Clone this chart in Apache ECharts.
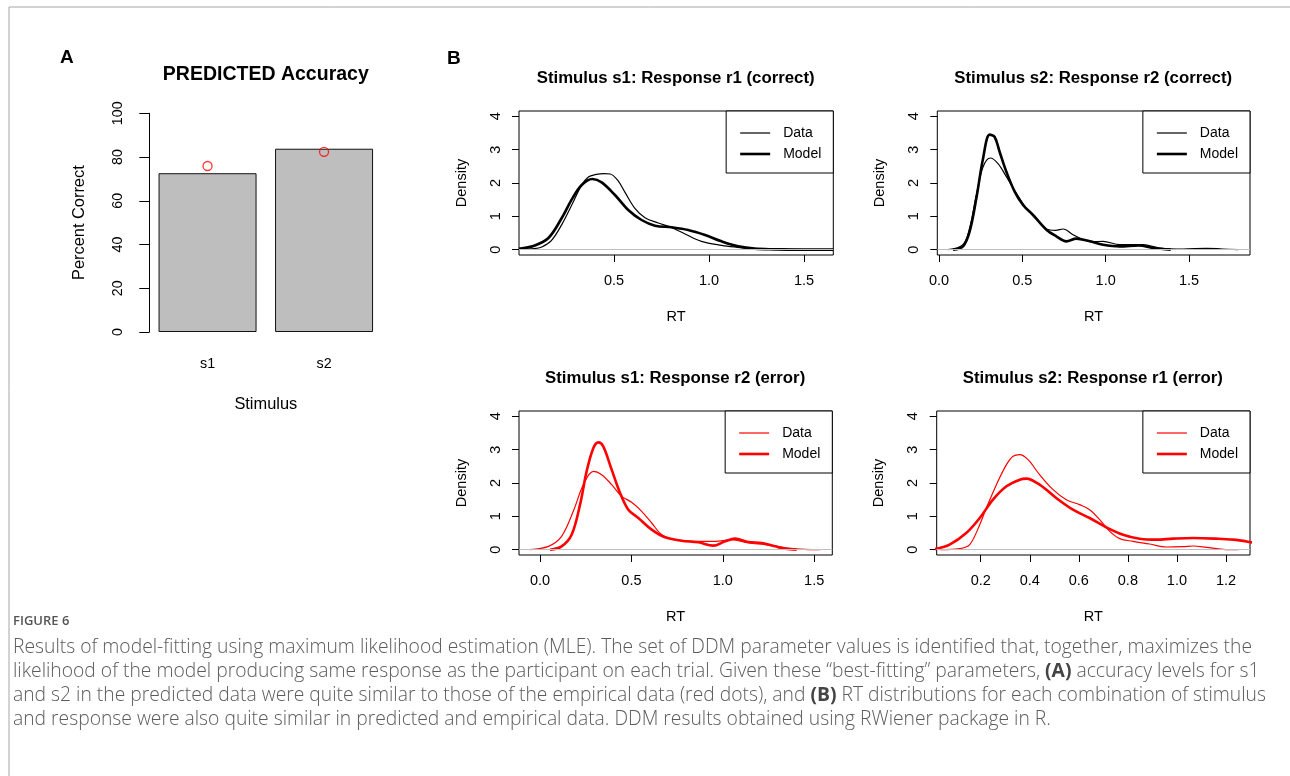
<!DOCTYPE html>
<html>
<head>
<meta charset="utf-8">
<script src="https://cdn.jsdelivr.net/npm/echarts@6/dist/echarts.min.js"></script>
<style>
  html, body { margin: 0; padding: 0; background: #fff; }
  #chart { width: 1290px; height: 776px; }
</style>
</head>
<body>
<div id="chart"></div>
<script>
// ---- Panel A: accuracy per stimulus (percent correct) ----
const stimuli = ['s1', 's2'];
const predictedAccuracy = [72.6, 83.8];
const observedAccuracy = [75.9, 82.4];
const accuracyTicks = [0, 20, 40, 60, 80, 100];

// ---- Panel B: RT density curves, [RT, density] ----
const s1r1Data = [[0.00,0.01],[0.08,0.03],[0.12,0.08],[0.17,0.27],[0.225,0.75],[0.277,1.33],[0.33,1.94],[0.365,2.18],[0.40,2.25],[0.45,2.28],[0.48,2.27],[0.52,2.08],[0.558,1.72],[0.61,1.24],[0.663,0.96],[0.733,0.80],[0.80,0.67],[0.874,0.47],[0.96,0.25],[1.067,0.13],[1.15,0.07],[1.22,0.03],[1.30,0.02],[1.38,0.03],[1.45,0.01],[1.55,0.0],[1.654,0.0]];
const s1r1Model = [[0.00,0.03],[0.08,0.12],[0.155,0.35],[0.225,0.95],[0.277,1.5],[0.33,1.94],[0.386,2.12],[0.435,2.02],[0.505,1.64],[0.575,1.19],[0.645,0.89],[0.716,0.72],[0.803,0.67],[0.89,0.59],[0.979,0.44],[1.066,0.25],[1.154,0.10],[1.24,0.03],[1.35,0.01],[1.45,0.0],[1.654,0.0]];

const s2r2Data = [[0.054,0.0],[0.144,0.15],[0.184,0.65],[0.224,1.64],[0.264,2.48],[0.308,2.75],[0.354,2.58],[0.404,2.19],[0.464,1.69],[0.524,1.24],[0.584,0.94],[0.644,0.62],[0.70,0.58],[0.744,0.62],[0.804,0.45],[0.864,0.3],[0.924,0.24],[0.984,0.25],[1.084,0.15],[1.224,0.15],[1.324,0.05],[1.464,0.02],[1.604,0.04],[1.70,0.02],[1.794,0.0]];
const s2r2Model = [[0.084,0.0],[0.144,0.1],[0.184,0.55],[0.224,1.54],[0.264,2.73],[0.304,3.45],[0.334,3.38],[0.364,2.93],[0.404,2.34],[0.454,1.74],[0.504,1.34],[0.564,1.04],[0.644,0.6],[0.704,0.4],[0.764,0.25],[0.824,0.33],[0.904,0.25],[0.984,0.15],[1.084,0.1],[1.2,0.13],[1.284,0.05],[1.39,0.0]];

const s1r2Data = [[-0.055,0.0],[0.046,0.1],[0.118,0.4],[0.182,1.15],[0.237,1.95],[0.292,2.35],[0.337,2.25],[0.392,1.95],[0.447,1.6],[0.501,1.42],[0.556,1.15],[0.611,0.8],[0.666,0.45],[0.739,0.3],[0.848,0.25],[0.958,0.25],[1.048,0.3],[1.14,0.2],[1.231,0.15],[1.359,0.05],[1.45,0.01],[1.531,0.0]];
const s1r2Model = [[0.055,0.0],[0.118,0.1],[0.173,0.45],[0.219,1.35],[0.255,2.35],[0.292,3.05],[0.319,3.22],[0.346,3.1],[0.392,2.4],[0.438,1.7],[0.483,1.2],[0.538,0.95],[0.611,0.6],[0.684,0.37],[0.775,0.27],[0.866,0.22],[0.948,0.12],[1.012,0.25],[1.067,0.33],[1.14,0.23],[1.213,0.2],[1.286,0.1],[1.34,0.03],[1.404,0.0]];

const s2r1Data = [[0.033,0.0],[0.114,0.03],[0.155,0.15],[0.196,0.75],[0.223,1.25],[0.264,1.95],[0.305,2.55],[0.332,2.8],[0.359,2.85],[0.393,2.7],[0.44,2.25],[0.495,1.8],[0.549,1.5],[0.603,1.35],[0.644,1.2],[0.685,0.9],[0.726,0.55],[0.767,0.33],[0.821,0.25],[0.889,0.17],[0.957,0.08],[1.025,0.09],[1.066,0.11],[1.12,0.07],[1.188,0.01],[1.25,0.0]];
const s2r1Model = [[0.0,0.02],[0.02,0.03],[0.073,0.15],[0.141,0.5],[0.196,0.95],[0.25,1.5],[0.305,1.9],[0.359,2.1],[0.386,2.13],[0.44,1.95],[0.508,1.55],[0.576,1.2],[0.644,0.95],[0.712,0.67],[0.78,0.45],[0.848,0.33],[0.916,0.3],[0.984,0.33],[1.066,0.35],[1.161,0.33],[1.229,0.3],[1.297,0.23],[1.35,0.16]];

const densityTicks = [0, 1, 2, 3, 4];
const rtTicksA = [0.5, 1.0, 1.5];
const rtTicksB = [0.0, 0.5, 1.0, 1.5];
const rtTicksC = [0.2, 0.4, 0.6, 0.8, 1.0, 1.2];

const panelTitles = [
  'Stimulus s1: Response r1 (correct)',
  'Stimulus s2: Response r2 (correct)',
  'Stimulus s1: Response r2 (error)',
  'Stimulus s2: Response r1 (error)'
];

const captionHead = 'FIGURE 6';
const captionLines = [
  'Results of model-fitting using maximum likelihood estimation (MLE). The set of DDM parameter values is identified that, together, maximizes the',
  'likelihood of the model producing same response as the participant on each trial. Given these \u201cbest-fitting\u201d parameters, {b|(A)} accuracy levels for s1',
  'and s2 in the predicted data were quite similar to those of the empirical data (red dots), and {b|(B)} RT distributions for each combination of stimulus',
  'and response were also quite similar in predicted and empirical data. DDM results obtained using RWiener package in R.'
];

// ---------------------------------------------------------------
const FONT = '"Liberation Sans", Arial, Helvetica, sans-serif';
const CAP_FONT = '"Open Sans", Lato, sans-serif';
const CAP_SIZE = 19.3;
const BLACK = '#000000';
const RED = '#ff0000';

// density panel boxes and their RT ranges
const panels = [
  { left: 519,   top: 111, width: 314.3, xmin: 0.0,     xmax: 1.654,  ticks: rtTicksA, color: BLACK, data: s1r1Data, model: s1r1Model },
  { left: 937.3, top: 111, width: 312.7, xmin: -0.0102, xmax: 1.8656, ticks: rtTicksB, color: BLACK, data: s2r2Data, model: s2r2Model },
  { left: 519,   top: 411, width: 313.3, xmin: -0.1149, xmax: 1.599,  ticks: rtTicksB, color: RED,   data: s1r2Data, model: s1r2Model },
  { left: 936.7, top: 411, width: 313.3, xmin: 0.0206,  xmax: 1.2978, ticks: rtTicksC, color: RED,   data: s2r1Data, model: s2r1Model }
];
const PANEL_H = 144;

const grids = [{ left: 149.3, top: 113.3, width: 233, height: 218.7, show: false }];
const xAxes = [{
  type: 'category', gridIndex: 0, data: stimuli,
  name: 'Stimulus', nameLocation: 'middle', nameGap: 64,
  nameTextStyle: { fontFamily: FONT, fontSize: 16.4, color: BLACK },
  axisLine: { show: false }, axisTick: { show: false },
  axisLabel: { margin: 25, fontFamily: FONT, fontSize: 14.3, color: BLACK }
}];
const yAxes = [{
  type: 'value', gridIndex: 0, min: 0, max: 100, interval: 20,
  name: 'Percent Correct', nameLocation: 'middle', nameGap: 62,
  nameTextStyle: { fontFamily: FONT, fontSize: 16.4, color: BLACK },
  axisLine: { show: true, lineStyle: { color: BLACK, width: 1 } },
  axisTick: { show: true, length: 10, lineStyle: { color: BLACK, width: 1 } },
  axisLabel: { rotate: 90, margin: 24, fontFamily: FONT, fontSize: 14.3, color: BLACK,
               customValues: accuracyTicks },
  splitLine: { show: false }
}];
const series = [
  {
    name: 'Predicted', type: 'bar', xAxisIndex: 0, yAxisIndex: 0,
    data: predictedAccuracy, barWidth: 98,
    itemStyle: { color: '#bebebe', borderColor: '#111', borderWidth: 1 }
  },
  {
    name: 'Observed', type: 'scatter', xAxisIndex: 0, yAxisIndex: 0,
    data: observedAccuracy, symbol: 'circle', symbolSize: 9,
    itemStyle: { color: 'rgba(0,0,0,0)', borderColor: RED, borderWidth: 1.3 }
  }
];
const titles = [
  { text: 'A', left: 60, top: 48, padding: 0, textStyle: { fontFamily: FONT, fontSize: 19, fontWeight: 'bold', color: BLACK } },
  { text: 'B', left: 447, top: 49, padding: 0, textStyle: { fontFamily: FONT, fontSize: 19, fontWeight: 'bold', color: BLACK } },
  { text: 'PREDICTED Accuracy', left: 265.8, textAlign: 'center', top: 64.5, padding: 0,
    textStyle: { fontFamily: FONT, fontSize: 19.5, fontWeight: 'bold', color: BLACK } }
];
const legends = [];

panels.forEach((p, i) => {
  const g = i + 1;
  grids.push({ left: p.left, top: p.top, width: p.width, height: PANEL_H, show: true,
               borderColor: BLACK, borderWidth: 1, backgroundColor: 'transparent' });
  xAxes.push({
    type: 'value', gridIndex: g, min: p.xmin, max: p.xmax,
    name: 'RT', nameLocation: 'middle', nameGap: 54,
    nameTextStyle: { fontFamily: FONT, fontSize: 14.5, color: BLACK },
    axisLine: { show: false, onZero: false },
    axisTick: { show: true, length: 7, customValues: p.ticks, lineStyle: { color: BLACK, width: 1 } },
    axisLabel: { customValues: p.ticks, margin: 18, formatter: v => v.toFixed(1),
                 fontFamily: FONT, fontSize: 14.5, color: BLACK },
    splitLine: { show: false }
  });
  yAxes.push({
    type: 'value', gridIndex: g, min: -0.16, max: 4.16,
    name: 'Density', nameLocation: 'middle', nameGap: 50,
    nameTextStyle: { fontFamily: FONT, fontSize: 14.5, color: BLACK },
    axisLine: { show: false, onZero: false },
    axisTick: { show: true, length: 7, customValues: densityTicks, lineStyle: { color: BLACK, width: 1 } },
    axisLabel: { customValues: densityTicks, rotate: 90, margin: 16,
                 fontFamily: FONT, fontSize: 14.5, color: BLACK },
    splitLine: { show: false }
  });
  series.push({
    name: 'Data', type: 'line', xAxisIndex: g, yAxisIndex: g,
    data: p.data, smooth: 0.35, showSymbol: false, symbol: 'none', clip: true,
    lineStyle: { color: p.color, width: 1.2 }, itemStyle: { color: p.color },
    markLine: {
      silent: true, symbol: 'none', label: { show: false },
      lineStyle: { color: '#bebebe', width: 1, type: 'solid' },
      data: [{ yAxis: 0 }]
    },
    z: 3
  });
  series.push({
    name: 'Model', type: 'line', xAxisIndex: g, yAxisIndex: g,
    data: p.model, smooth: 0.35, showSymbol: false, symbol: 'none', clip: true,
    lineStyle: { color: p.color, width: 2.6 }, itemStyle: { color: p.color },
    z: 4
  });
  const cx = p.left + p.width / 2 - 0.5;
  titles.push({
    text: panelTitles[i], left: cx, textAlign: 'center', top: p.top - 41.2, padding: 0,
    textStyle: { fontFamily: FONT, fontSize: 16.8, fontWeight: 'bold', color: BLACK }
  });
  legends.push({
    orient: 'vertical', right: 1290 - (p.left + p.width), top: p.top,
    padding: [15, 12, 12, 14], itemWidth: 30, itemHeight: 14, itemGap: 7,
    borderColor: BLACK, borderWidth: 1, borderRadius: 0, backgroundColor: '#fff',
    selectedMode: false, symbolKeepAspect: true,
    textStyle: { fontFamily: FONT, fontSize: 14, color: BLACK, padding: [0, 0, 0, 8] },
    data: [
      { name: 'Data',  icon: 'path://M0,0H30V1.2H0Z', itemStyle: { color: p.color, borderWidth: 0 } },
      { name: 'Model', icon: 'path://M0,0H30V2.6H0Z', itemStyle: { color: p.color, borderWidth: 0 } }
    ]
  });
});

const graphics = [
  { type: 'line', shape: { x1: 9, y1: 7, x2: 1290, y2: 7 }, style: { stroke: '#a6a6a6', lineWidth: 1 }, silent: true },
  { type: 'line', shape: { x1: 9, y1: 7, x2: 9, y2: 776 }, style: { stroke: '#a6a6a6', lineWidth: 1 }, silent: true },
  { type: 'text', x: 13, y: 621, silent: true,
    style: { text: captionHead, fontFamily: CAP_FONT, fontSize: 13, fontWeight: 600,
             fill: '#555', verticalAlign: 'middle', align: 'left' } }
];
captionLines.forEach((line, i) => {
  graphics.push({
    type: 'text', x: 13, y: 648 + i * 24, silent: true,
    style: {
      text: line, fontFamily: CAP_FONT, fontSize: CAP_SIZE, fontWeight: 300, fill: '#5c5c5c',
      verticalAlign: 'middle', align: 'left',
      rich: { b: { fontFamily: CAP_FONT, fontSize: CAP_SIZE, fontWeight: 'bold', fill: '#444' } }
    }
  });
});

const chart = echarts.init(document.getElementById('chart'), null, { renderer: 'canvas' });
chart.setOption({
  animation: false,
  backgroundColor: '#ffffff',
  title: titles,
  legend: legends,
  grid: grids,
  xAxis: xAxes,
  yAxis: yAxes,
  series: series,
  graphic: graphics
});
</script>
</body>
</html>
